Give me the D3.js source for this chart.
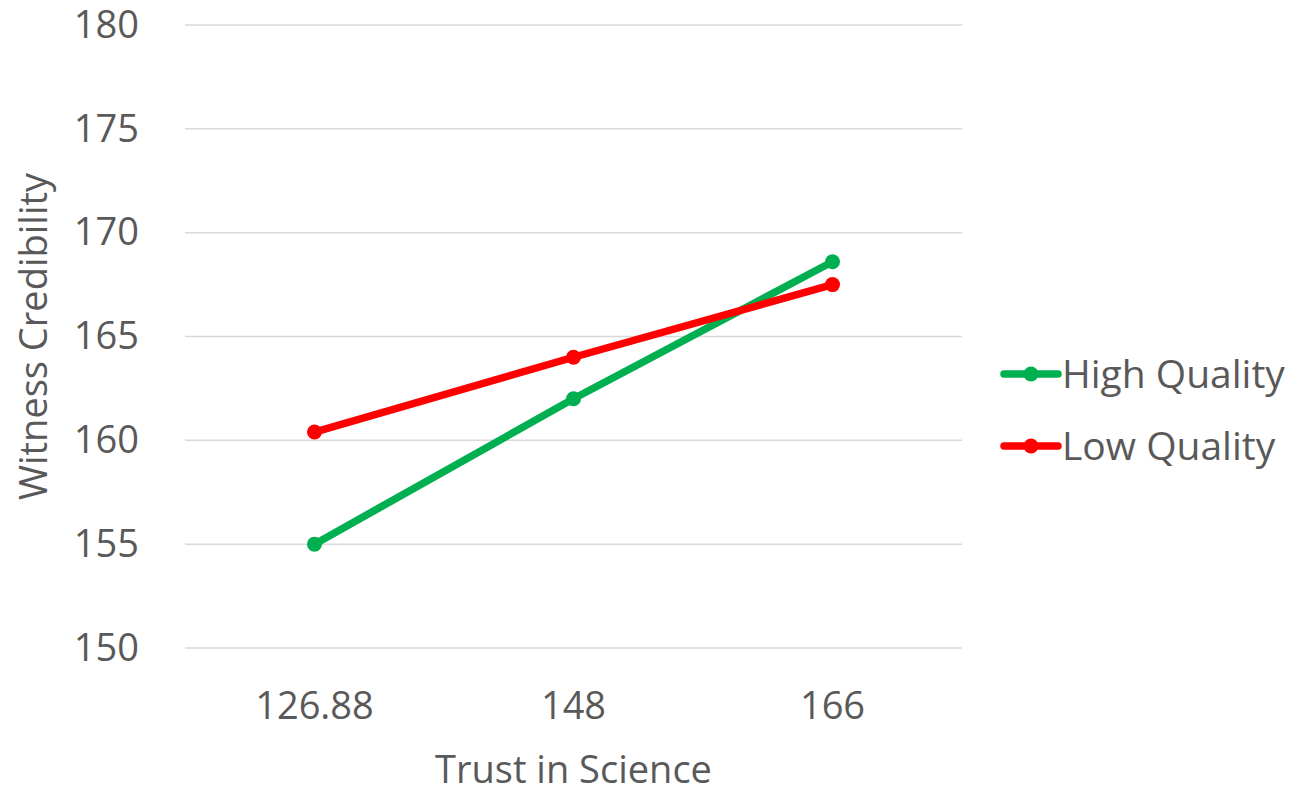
<!DOCTYPE html>
<html>
<head>
<meta charset="utf-8">
<script src="https://cdn.jsdelivr.net/npm/d3@7/dist/d3.min.js"></script>
<style>
  html, body { margin: 0; padding: 0; background: #fff; }
  svg text { font-family: "Open Sans", "DejaVu Sans", sans-serif; fill: #595959; }
</style>
</head>
<body>
<svg id="chart" width="1309" height="797"></svg>
<script>
// Trust in Science levels (x categories)
const categories = ["126.88", "148", "166"];
// Witness credibility by evidence quality
const highQuality = [155.0, 162.0, 168.6];
const lowQuality = [160.4, 164.0, 167.5];
const yTicks = [150, 155, 160, 165, 170, 175, 180];
const seriesNames = ["High Quality", "Low Quality"];
const seriesColors = ["#00B050", "#FF0000"];

const svg = d3.select("#chart");
const plot = { left: 185, right: 962, top: 25, bottom: 648 };
const fontSize = 38;

const x = d3.scaleBand().domain(categories).range([plot.left, plot.right]).padding(0);
const y = d3.scaleLinear().domain([150, 180]).range([plot.bottom, plot.top]);

// Horizontal gridlines
svg.append("g")
  .selectAll("line")
  .data(yTicks)
  .join("line")
  .attr("x1", plot.left).attr("x2", plot.right)
  .attr("y1", d => y(d)).attr("y2", d => y(d))
  .attr("stroke", "#D9D9D9").attr("stroke-width", 1.5);

// Y axis labels
const yAxis = svg.append("g")
  .attr("transform", `translate(${plot.left},0)`)
  .call(d3.axisLeft(y).tickValues(yTicks).tickSize(0).tickPadding(46).tickFormat(d3.format("d")));
yAxis.select(".domain").remove();
yAxis.selectAll("text").attr("font-size", fontSize).style("font-family", "'Open Sans', sans-serif").attr("fill", "#595959");

// X axis labels
const xAxis = svg.append("g")
  .attr("transform", `translate(0,${plot.bottom})`)
  .call(d3.axisBottom(x).tickSize(0).tickPadding(44));
xAxis.select(".domain").remove();
xAxis.selectAll("text").attr("font-size", fontSize).style("font-family", "'Open Sans', sans-serif").attr("fill", "#595959");

// Axis titles
svg.append("text")
  .attr("x", (plot.left + plot.right) / 2)
  .attr("y", 783)
  .attr("text-anchor", "middle")
  .attr("font-size", fontSize)
  .text("Trust in Science");

svg.append("text")
  .attr("transform", `translate(47,${(plot.top + plot.bottom) / 2}) rotate(-90)`)
  .attr("text-anchor", "middle")
  .attr("font-size", fontSize)
  .text("Witness Credibility");

// Series lines and markers
const series = [highQuality, lowQuality];
const line = d3.line()
  .x((d, i) => x(categories[i]) + x.bandwidth() / 2)
  .y(d => y(d));

series.forEach((vals, s) => {
  const g = svg.append("g");
  g.append("path")
    .datum(vals)
    .attr("d", line)
    .attr("fill", "none")
    .attr("stroke", seriesColors[s])
    .attr("stroke-width", 7.5)
    .attr("stroke-linejoin", "round")
    .attr("stroke-linecap", "round");
  g.selectAll("circle")
    .data(vals)
    .join("circle")
    .attr("cx", (d, i) => x(categories[i]) + x.bandwidth() / 2)
    .attr("cy", d => y(d))
    .attr("r", 7.5)
    .attr("fill", seriesColors[s]);
});

// Legend
const legend = svg.append("g").attr("transform", "translate(1004,0)");
const legendY = [374, 446];
seriesNames.forEach((name, s) => {
  const row = legend.append("g").attr("transform", `translate(0,${legendY[s]})`);
  row.append("line")
    .attr("x1", 0).attr("x2", 54)
    .attr("stroke", seriesColors[s]).attr("stroke-width", 7.5)
    .attr("stroke-linecap", "round");
  row.append("circle").attr("cx", 27).attr("r", 7.5).attr("fill", seriesColors[s]);
  row.append("text")
    .attr("x", 58).attr("y", 0)
    .attr("dy", "0.36em")
    .attr("font-size", fontSize + 1)
    .text(name);
});
</script>
</body>
</html>
